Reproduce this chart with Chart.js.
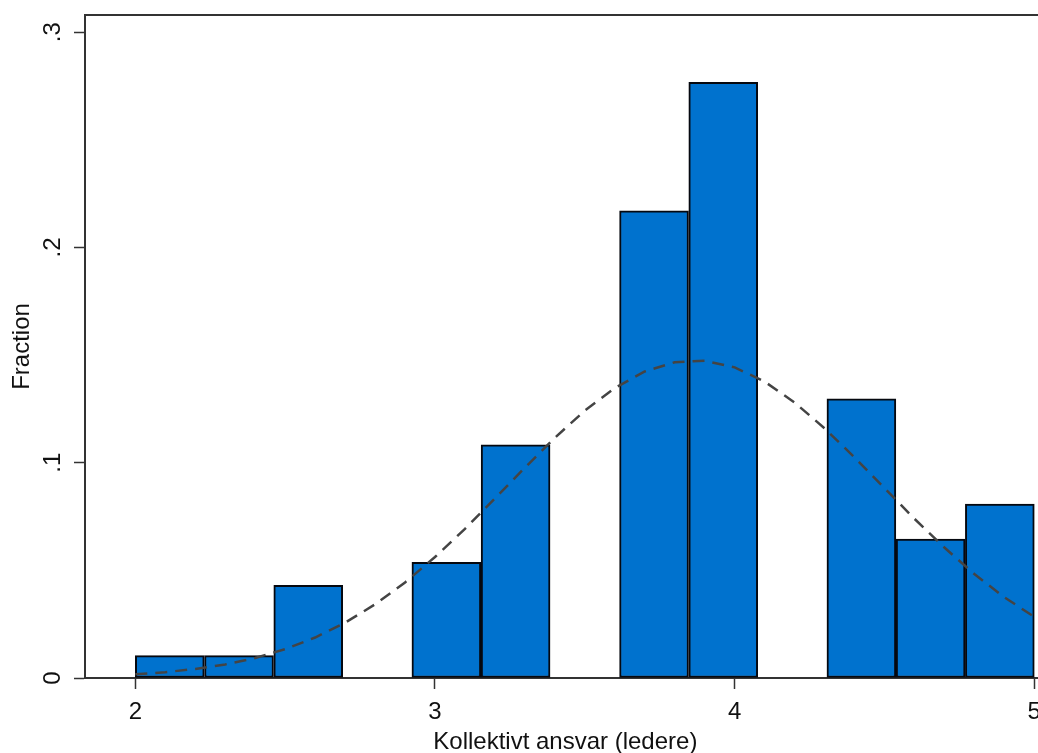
<!DOCTYPE html>
<html>
<head>
<meta charset="utf-8">
<script src="https://cdn.jsdelivr.net/npm/chart.js@4/dist/chart.umd.min.js"></script>
<style>
  html, body { margin: 0; padding: 0; background: #fff; overflow: hidden; }
  #wrap { width: 1050px; height: 753px; }
</style>
</head>
<body>
<div id="wrap"><canvas id="hist" width="1050" height="753"></canvas></div>
<script>
// histogram bins (centres), bin width 3/13
const binCenters = [2.115, 2.346, 2.577, 2.808, 3.038, 3.269, 3.500, 3.731, 3.962, 4.192, 4.423, 4.654, 4.885];
const binFraction = [0.0104, 0.0104, 0.0430, 0, 0.0537, 0.1083, 0, 0.2170, 0.2767, 0, 0.1297, 0.0645, 0.0808];

// normal density overlay (scaled to fraction)
const curveX = [2.0, 2.1, 2.2, 2.3, 2.4, 2.5, 2.6, 2.7, 2.8, 2.9, 3.0, 3.1, 3.2, 3.3, 3.4, 3.5,
                3.6, 3.7, 3.8, 3.9, 4.0, 4.1, 4.2, 4.3, 4.4, 4.5, 4.6, 4.7, 4.8, 4.9, 5.0];
const curveY = [0.0017, 0.0027, 0.0042, 0.0063, 0.0093, 0.0134, 0.0188, 0.0257, 0.0342, 0.0444,
                0.0562, 0.0693, 0.0834, 0.0977, 0.1116, 0.1242, 0.1347, 0.1424, 0.1467, 0.1474,
                0.1443, 0.1377, 0.1280, 0.1160, 0.1025, 0.0882, 0.0740, 0.0606, 0.0483, 0.0375, 0.0284];

// axis ticks
const xTicks = [2, 3, 4, 5];
const yTicks = [0, 0.1, 0.2, 0.3];
const yTickLabels = ['0', '.1', '.2', '.3'];

const FONT = "'Liberation Sans', Arial, sans-serif";
const AXIS = '#333333';

// y tick labels are rotated like Stata does, so draw them by hand
const rotatedYLabels = {
  id: 'rotatedYLabels',
  afterDraw(chart) {
    const ctx = chart.ctx;
    const y = chart.scales.y;
    const area = chart.chartArea;
    ctx.save();
    // top frame line
    ctx.strokeStyle = AXIS;
    ctx.lineWidth = 2;
    ctx.beginPath();
    ctx.moveTo(area.left - 1, area.top);
    ctx.lineTo(area.right, area.top);
    ctx.stroke();

    ctx.fillStyle = '#111';
    ctx.font = '24px ' + FONT;
    ctx.textAlign = 'center';
    ctx.textBaseline = 'alphabetic';
    yTicks.forEach((v, i) => {
      const py = y.getPixelForValue(v);
      ctx.save();
      ctx.translate(60, py);
      ctx.rotate(-Math.PI / 2);
      ctx.fillText(yTickLabels[i], 0, 0);
      ctx.restore();
    });
    ctx.restore();
  }
};

const ctx = document.getElementById('hist').getContext('2d');
new Chart(ctx, {
  type: 'bar',
  data: {
    datasets: [
      {
        type: 'line',
        data: curveX.map((x, i) => ({ x: x, y: curveY[i] })),
        borderColor: '#444444',
        borderWidth: 2.5,
        borderDash: [12, 8],
        pointRadius: 0,
        tension: 0,
        fill: false,
        order: 0
      },
      {
        type: 'bar',
        data: binCenters.map((x, i) => ({ x: x, y: binFraction[i] || null })),
        backgroundColor: '#0072CE',
        borderColor: '#05080f',
        borderWidth: 2,
        borderSkipped: false,
        barPercentage: 1,
        categoryPercentage: 1,
        order: 1
      }
    ]
  },
  options: {
    responsive: false,
    animation: false,
    layout: { padding: { left: 0, top: 15, right: 3, bottom: 0 } },
    plugins: {
      legend: { display: false },
      tooltip: { enabled: false }
    },
    scales: {
      x: {
        type: 'linear',
        min: 1.832,
        max: 5.038,
        offset: false,
        afterBuildTicks: (s) => { s.ticks = xTicks.map(v => ({ value: v })); },
        afterFit: (s) => { s.height = 75; },
        grid: { drawOnChartArea: false, drawTicks: true, tickLength: 11, tickColor: AXIS, tickWidth: 1.5, offset: false },
        border: { display: true, color: AXIS, width: 2 },
        ticks: { color: '#111', font: { family: FONT, size: 24 }, padding: 9, maxRotation: 0 },
        title: {
          display: true,
          text: 'Kollektivt ansvar (ledere)',
          color: '#111',
          font: { family: FONT, size: 24, lineHeight: 0.875 },
          padding: { top: 0, bottom: 0 }
        }
      },
      y: {
        type: 'linear',
        min: 0,
        max: 0.308,
        afterBuildTicks: (s) => { s.ticks = yTicks.map(v => ({ value: v })); },
        afterFit: (s) => { s.width = 85; },
        grid: { drawOnChartArea: false, drawTicks: true, tickLength: 11, tickColor: AXIS, tickWidth: 1.5 },
        border: { display: true, color: AXIS, width: 2 },
        ticks: { display: false },
        title: {
          display: true,
          text: 'Fraction',
          color: '#111',
          font: { family: FONT, size: 24 },
          padding: { top: 8, bottom: 0 }
        }
      }
    }
  },
  plugins: [rotatedYLabels]
});
</script>
</body>
</html>
